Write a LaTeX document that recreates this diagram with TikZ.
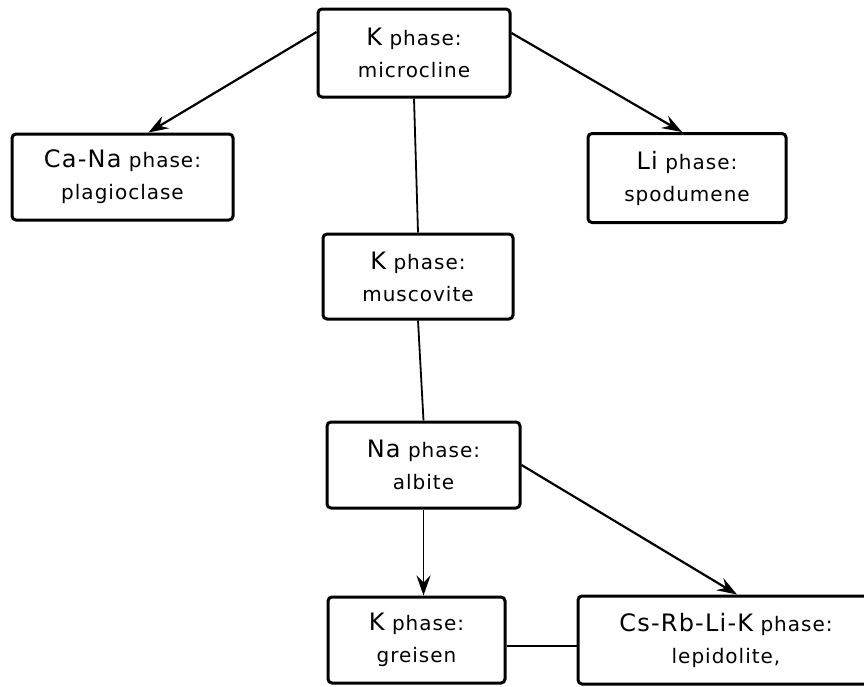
\documentclass[tikz,border=0pt]{standalone}
\usepackage{fontspec}
\setmainfont{DejaVu Sans}[LetterSpace=5]
\usetikzlibrary{arrows.meta}
\newcommand\elm[1]{{\fontsize{24}{30}\selectfont #1}}
\begin{document}
\begin{tikzpicture}[x=1pt, y=-1pt,
        phasebox/.style={draw, line width=3pt, rounded corners=4pt, align=center,
            inner sep=0pt, font=\fontsize{20}{32}\selectfont},
        link/.style={line width=1.8pt},
        arr/.style={link, line width=2.2pt, -{Stealth[length=20pt, width=14pt, inset=7pt]}}]
    \fill[white] (0,0) rectangle (864,686);
    \path[use as bounding box, clip] (0,0) rectangle (864,686);
    \foreach \nm/\x/\y/\w/\h/\el/\mn in {
        micro/414/53/192/88/K/microcline,
        plag/122.5/177/221/86/Ca-Na/plagioclase,
        spod/687/178/198/89/Li/spodumene,
        musc/418/276.5/190/85/K/muscovite,
        alb/423.5/465/193/86/Na/albite,
        greis/416.5/640/177/86/K/greisen,
        lep/726/640/296/88/Cs-Rb-Li-K/{lepidolite,}
    } {
        \node[phasebox, minimum width=\w, minimum height=\h] (\nm) at (\x,\y) {\elm{\el} phase:\\\mn};
    }
    \draw[arr] ([yshift=21]micro.west) -- ([xshift=26]plag.north);
    \draw[arr] ([yshift=20]micro.east) -- ([xshift=-5]spod.north);
    \draw[link] (micro.south) -- (musc.north);
    \draw[link] (musc.south) -- (alb.north);
    \draw[arr, line width=1.6pt] (alb.south) -- (alb.south |- greis.north);
    \draw[arr] (alb.east) -- ([xshift=11]lep.north);
    \draw[link] ([yshift=-6]greis.east) -- ([yshift=-6]lep.west);
\end{tikzpicture}
\end{document}
